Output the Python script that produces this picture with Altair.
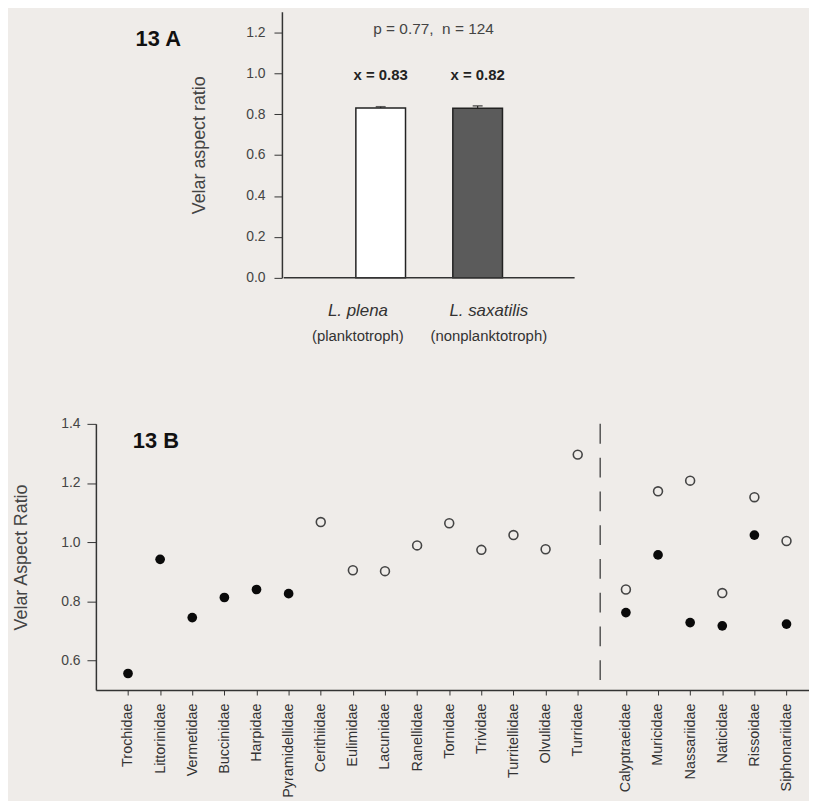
import altair as alt
import pandas as pd

# ---------------- Panel 13 A ----------------
species = ["L. plena", "L. saxatilis"]
development = ["(planktotroph)", "(nonplanktotroph)"]
means = [0.83, 0.828]
errors = [0.006, 0.012]
mean_labels = ["x = 0.83", "x = 0.82"]
bar_fills = ["#ffffff", "#5b5b5b"]
stat_label = "p = 0.77,\u00a0 n = 124"

# ---------------- Panel 13 B ----------------
families = ["Trochidae", "Littorinidae", "Vermetidae", "Buccinidae", "Harpidae",
            "Pyramidellidae", "Cerithiidae", "Eulimidae", "Lacunidae", "Ranellidae",
            "Tornidae", "Trividae", "Turritellidae", "Olvulidae", "Turridae",
            "Calyptraeidae", "Muricidae", "Nassariidae", "Naticidae", "Rissoidae",
            "Siphonariidae"]
planktotroph = [None, None, None, None, None, None,
                1.068, 0.905, 0.902, 0.989, 1.064, 0.974, 1.024, 0.976, 1.296,
                0.840, 1.172, 1.208, 0.828, 1.152, 1.004]
nonplanktotroph = [0.556, 0.942, 0.745, 0.813, 0.840, 0.826,
                   None, None, None, None, None, None, None, None, None,
                   0.762, 0.957, 0.728, 0.717, 1.024, 0.723]
n_first_group = 15
group_gap = 0.5

FONT = "Liberation Sans"
BG = "#efece9"
INK = "#333333"
GREY = "#444444"

# ---------- build panel A ----------
posA = [1, 2]
label_centres = [0.76, 2.11]   # where the category captions sit under the bars
dfA = pd.DataFrame({
    "pos": posA, "species": species, "dev": development,
    "mean": means, "hi": [m + e for m, e in zip(means, errors)],
    "fill": bar_fills, "mlabel": mean_labels,
})

xA = alt.Scale(domain=[-1.886, 3.0], nice=False, zero=False)
yA = alt.Scale(domain=[0, 1.3], nice=False)

sp_expr = "[" + ",".join("'%s'" % s for s in species) + "][datum.value < 1.5 ? 0 : 1]"
dev_expr = "[" + ",".join("'%s'" % s for s in development) + "][datum.value < 1.5 ? 0 : 1]"

axisA_species = alt.Axis(orient="bottom", values=label_centres, labelExpr=sp_expr, ticks=False,
                         domain=False, grid=False, title=None, labelFontStyle="italic",
                         labelFontSize=17, labelColor=INK, labelPadding=25, labelFont=FONT)
axisA_dev = alt.Axis(orient="bottom", values=label_centres, labelExpr=dev_expr, ticks=False,
                     domain=False, grid=False, title=None, labelFontSize=15,
                     labelColor=INK, labelPadding=51, labelFont=FONT)
yaxisA = alt.Axis(values=[0, 0.2, 0.4, 0.6, 0.8, 1.0, 1.2], format=".1f", grid=False,
                  offset=-187.3, tickSize=8, tickColor=INK, domainColor=INK,
                  domainWidth=1.5, labelFontSize=14, labelColor=GREY, labelPadding=9,
                  title="Velar aspect ratio", titleFontSize=18, titleFontWeight="normal",
                  titleColor=GREY, titlePadding=37, labelFont=FONT, titleFont=FONT)

bars = alt.Chart(dfA).mark_bar(orient="vertical", size=50, stroke="#222",
                               strokeWidth=1.5).encode(
    x=alt.X("pos:Q", scale=xA, axis=axisA_species),
    y=alt.Y("mean:Q", scale=yA, axis=yaxisA),
    fill=alt.Fill("fill:N", scale=None),
)
err_rule = alt.Chart(dfA).mark_rule(color="#222", strokeWidth=1.2).encode(
    x=alt.X("pos:Q", scale=xA, axis=None),
    y=alt.Y("mean:Q", scale=yA), y2="hi:Q")
err_cap = alt.Chart(dfA).mark_tick(orient="horizontal", size=10, thickness=1.5,
                                   color="#222").encode(
    x=alt.X("pos:Q", scale=xA, axis=None), y=alt.Y("hi:Q", scale=yA))
dev_layer = alt.Chart(dfA).mark_point(opacity=0).encode(
    x=alt.X("pos:Q", scale=xA, axis=axisA_dev), y=alt.Y("mean:Q", scale=yA))
mean_text = alt.Chart(dfA).mark_text(font=FONT, fontSize=15, fontWeight="bold",
                                     color="#222").encode(
    x=alt.X("pos:Q", scale=xA, axis=None), y=alt.datum(0.993), text="mlabel:N")

base_line = alt.Chart(pd.DataFrame({"x0": [0.0], "x1": [3.0], "y0": [0.0]})).mark_rule(
    color=INK, strokeWidth=1.5).encode(
    x=alt.X("x0:Q", scale=xA, axis=None), x2="x1:Q", y=alt.Y("y0:Q", scale=yA))

stat_text = alt.Chart(pd.DataFrame({"x": [1.545], "y": [1.213], "t": [stat_label]})).mark_text(
    font=FONT, fontSize=15.5, color=GREY).encode(
    x=alt.X("x:Q", scale=xA, axis=None), y=alt.Y("y:Q", scale=yA), text="t:N")
panel_label_A = alt.Chart(pd.DataFrame({"x": [-1.294], "y": [1.165], "t": ["13 A"]})).mark_text(
    font=FONT, fontSize=22, fontWeight="bold", color="#111").encode(
    x=alt.X("x:Q", scale=xA, axis=None), y=alt.Y("y:Q", scale=yA), text="t:N")

panelA = alt.layer(bars, err_rule, err_cap, dev_layer, mean_text, base_line,
                   stat_text, panel_label_A).resolve_axis(x="independent").properties(
    width=487, height=268)

# ---------- build panel B ----------
positions = [i if i < n_first_group else i + group_gap for i in range(len(families))]
rows = []
for f, p, o, c in zip(families, positions, planktotroph, nonplanktotroph):
    if o is not None:
        rows.append({"family": f, "pos": p, "value": o, "type": "planktotroph"})
    if c is not None:
        rows.append({"family": f, "pos": p, "value": c, "type": "nonplanktotroph"})
dfB = pd.DataFrame(rows)
divider = positions[n_first_group - 1] + 0.7

xB = alt.Scale(domain=[-1.0, 21.2], nice=False, zero=False)
yB = alt.Scale(domain=[0.5, 1.4], nice=False, zero=False)

fam_expr = ("[" + ",".join("'%s'" % f for f in families) + "]"
            "[datum.value < %d ? datum.value : datum.value - %s]" % (n_first_group, group_gap))
xaxisB = alt.Axis(values=positions, labelExpr=fam_expr, labelAngle=270, tickSize=5,
                  tickColor=INK, domainColor=INK, domainWidth=1.5, grid=False, title=None,
                  labelFontSize=14.5, labelColor=INK, labelPadding=8, labelFont=FONT,
                  labelOverlap=False, labelBound=False)
yaxisB = alt.Axis(values=[0.6, 0.8, 1.0, 1.2, 1.4], format=".1f", grid=False, tickSize=9,
                  tickColor=INK, domainColor=INK, domainWidth=1.5, labelFontSize=14,
                  labelColor=GREY, labelPadding=7, title="Velar Aspect Ratio",
                  titleFontSize=18, titleFontWeight="normal", titleColor=GREY,
                  titlePadding=30, labelFont=FONT, titleFont=FONT)

XB = alt.X("pos:Q", scale=xB, axis=xaxisB)
YB = alt.Y("value:Q", scale=yB, axis=yaxisB)

divider_rule = alt.Chart(pd.DataFrame({"pos": [divider]})).mark_rule(
    color="#555", strokeWidth=1.5, strokeDash=[20, 14]).encode(x=XB)
hollow = alt.Chart(dfB).transform_filter(alt.datum.type == "planktotroph").mark_point(
    shape="circle", size=80, filled=False, strokeWidth=1.6, color=GREY, opacity=1).encode(
    x=XB, y=YB)
filled = alt.Chart(dfB).transform_filter(alt.datum.type == "nonplanktotroph").mark_circle(
    size=95, color="#0a0a0a", opacity=1).encode(x=XB, y=YB)
label_B = alt.Chart(pd.DataFrame({"pos": [0.866], "value": [1.343], "t": ["13 B"]})).mark_text(
    font=FONT, fontSize=22, fontWeight="bold", color="#111").encode(
    x=XB, y=YB, text="t:N")

panelB = alt.layer(divider_rule, hollow, filled, label_B).properties(width=718, height=268)

chart = alt.vconcat(panelA, panelB, spacing=74).properties(
    padding={"left": 4.5, "top": 1, "right": 0, "bottom": 0}
).configure(background=BG, font=FONT).configure_view(stroke=None)

chart.save("out.html", embed_options={"renderer": "svg", "actions": False})
